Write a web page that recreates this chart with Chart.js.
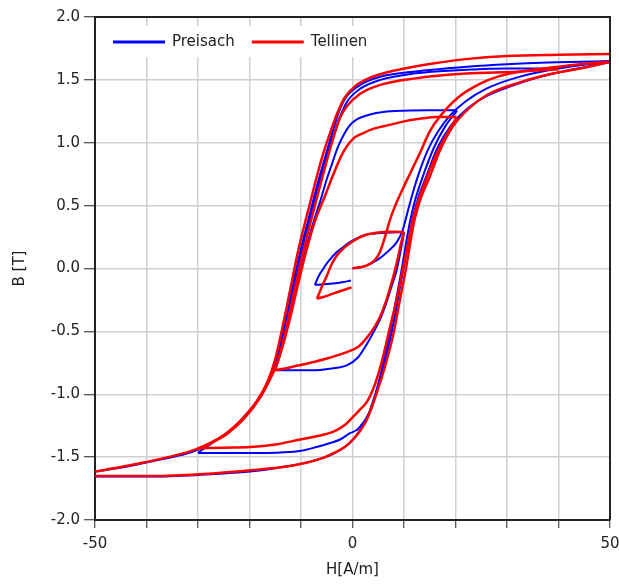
<!DOCTYPE html>
<html>
<head>
<meta charset="utf-8">
<title>B-H Hysterese</title>
<script src="https://cdn.jsdelivr.net/npm/chart.js@4.4.1/dist/chart.umd.min.js"></script>
<style>
  html, body { margin: 0; padding: 0; background: #fff; }
</style>
</head>
<body>
<canvas id="bhChart" width="619" height="585"></canvas>
<script>
// Achsen
const xTicks = [-50, -40, -30, -20, -10, 0, 10, 20, 30, 40, 50];
const xLabels = ['-50', '0', '50'];
const yTicks = [-2, -1.5, -1, -0.5, 0, 0.5, 1, 1.5, 2];

const seriesNames = ['Preisach', 'Tellinen'];
const seriesColors = ['#0000ff', '#ff0000'];

// Tellinen-Modell, Aeste [H, B]
const tellVirgin = [[0,0],[2.5,0.02],[4.2,0.06],[5.3,0.13],[6.3,0.25],[7.3,0.39],[8.3,0.5],[9.5,0.61],[11,0.74],[13,0.91],[15,1.09],[17,1.21],[20.5,1.36],[24.8,1.47],[28.5,1.53],[32.5,1.565],[38.9,1.6],[44.2,1.625],[50,1.645]];
const tellDown50 = [[50,1.705],[40,1.7],[30,1.69],[22,1.665],[15.6,1.63],[10.6,1.595],[6.7,1.56],[3,1.51],[0.5,1.45],[-1.5,1.36],[-3,1.23],[-4.5,1.06],[-6,0.87],[-7.5,0.64],[-9,0.4],[-10.5,0.15],[-12,-0.15],[-13.5,-0.45],[-15,-0.72],[-16.5,-0.9],[-18.5,-1.05],[-21.5,-1.2],[-24.5,-1.31],[-27.5,-1.385],[-30,-1.43],[-32,-1.46],[-38,-1.52],[-44.5,-1.575],[-50,-1.615]];
const tellUp50 = [[-50,-1.65],[-38,-1.65],[-27,-1.63],[-18.6,-1.6],[-12.8,-1.575],[-9,-1.545],[-6,-1.51],[-3.8,-1.47],[-1.5,-1.42],[0.1,-1.36],[1.5,-1.29],[2.8,-1.2],[4.7,-0.99],[6.3,-0.78],[8,-0.51],[9.2,-0.25],[10.3,-0.02],[11.2,0.2],[12,0.38],[13.1,0.54],[15,0.73],[17,0.94],[19.5,1.13],[22.5,1.27],[26.1,1.38],[32.5,1.48],[38.9,1.55],[45.5,1.6],[50,1.645]];
const tellDown40 = [[40,1.585],[32,1.565],[22,1.55],[11.9,1.51],[5.4,1.46],[1.5,1.39],[-1.1,1.29],[-2.4,1.2],[-4,1.0],[-5.5,0.78],[-7,0.55],[-8.5,0.31],[-10,0.06],[-11.5,-0.22],[-13,-0.5],[-14.5,-0.74],[-16,-0.88],[-18,-1.03],[-21,-1.19],[-24.2,-1.31],[-27.5,-1.39],[-30,-1.44]];
const tellUp30 = [[-30,-1.43],[-25,-1.425],[-19.9,-1.42],[-15,-1.4],[-10.2,-1.36],[-6.5,-1.33],[-3.8,-1.3],[-1.5,-1.245],[0.1,-1.18],[1.5,-1.12],[2.8,-1.06],[4,-0.96],[5,-0.84],[6,-0.69],[7.2,-0.48],[8.6,-0.24],[9.8,0],[10.8,0.2],[11.6,0.37],[12.7,0.53],[14.4,0.72],[16.4,0.92],[18.5,1.08],[20.2,1.2]];
const tellDown20 = [[20.2,1.205],[16.3,1.205],[13,1.19],[10,1.17],[7,1.14],[4,1.11],[2,1.075],[0.1,1.03],[-2,0.91],[-4,0.72],[-5.5,0.56],[-7,0.41],[-8.3,0.24],[-9.6,0.04],[-11,-0.2],[-12.4,-0.44],[-13.8,-0.65],[-15,-0.8]];
const tellUp15 = [[-15,-0.81],[-12,-0.785],[-8.2,-0.75],[-4.5,-0.71],[-1.1,-0.665],[1.2,-0.62],[2.8,-0.55],[4.2,-0.47],[5.4,-0.38],[6.5,-0.26],[7.4,-0.14],[8.2,-0.02],[9,0.12],[9.6,0.23],[10,0.29]];
const tellDown10 = [[10,0.29],[8,0.292],[6,0.29],[4,0.28],[2.8,0.27],[1,0.24],[-0.5,0.2],[-2,0.15],[-3.1,0.1],[-4.1,0.03],[-5,-0.06],[-5.8,-0.13],[-6.4,-0.19],[-6.9,-0.24]];
const tellUp7 = [[-6.9,-0.24],[-5.5,-0.225],[-3.8,-0.2],[-2,-0.175],[-0.2,-0.15]];

// Preisach-Modell, Aeste [H, B]
const preiVirgin = [[0,0],[2.5,0.02],[4.9,0.07],[7,0.14],[8.6,0.21],[9.7,0.3],[10.7,0.45],[11.7,0.6],[13,0.77],[14.6,0.94],[16.6,1.09],[19,1.22],[22,1.33],[26,1.43],[32,1.52],[40,1.59],[50,1.645]];
const preiDown50 = [[50,1.65],[40,1.64],[30,1.625],[22.2,1.605],[11.8,1.565],[5.4,1.525],[1.5,1.46],[-1.1,1.37],[-2.6,1.25],[-4,1.07],[-5.5,0.86],[-7,0.64],[-8.5,0.4],[-10,0.16],[-11.5,-0.12],[-13,-0.42],[-14.5,-0.67],[-16,-0.86],[-18,-1.02],[-21.3,-1.19],[-24.4,-1.31],[-27.7,-1.39],[-30,-1.44],[-32,-1.47],[-38,-1.525],[-44.5,-1.58],[-50,-1.615]];
const preiUp50 = [[-50,-1.655],[-38,-1.655],[-27,-1.635],[-19.9,-1.615],[-10.2,-1.555],[-6,-1.51],[-3.8,-1.475],[-1.5,-1.42],[0.1,-1.36],[1.5,-1.28],[2.8,-1.19],[4.5,-0.99],[6,-0.78],[7.6,-0.51],[8.8,-0.25],[9.9,0],[10.8,0.2],[11.6,0.38],[12.6,0.54],[14.4,0.74],[16.4,0.95],[19,1.13],[22,1.26],[26,1.37],[32.5,1.475],[39,1.55],[45.5,1.605],[50,1.64]];
const preiDown40 = [[40,1.59],[30,1.59],[22.2,1.58],[11.8,1.55],[5.4,1.5],[1.5,1.43],[-1,1.33],[-2.5,1.2],[-4,1.02],[-5.5,0.82],[-7,0.6],[-8.5,0.36],[-10,0.1],[-11.5,-0.18],[-13,-0.47],[-14.5,-0.7],[-16,-0.87],[-18,-1.03],[-21,-1.19],[-24.4,-1.31],[-27.7,-1.4],[-30,-1.465]];
const preiUp30 = [[-30,-1.467],[-20,-1.467],[-14.7,-1.465],[-10,-1.45],[-7,-1.42],[-4.5,-1.39],[-2.4,-1.36],[-0.5,-1.31],[0.8,-1.285],[2,-1.23],[2.8,-1.18],[3.8,-1.1],[4.5,-1.0],[5.7,-0.8],[7.2,-0.52],[8.4,-0.26],[9.5,-0.02],[10.4,0.2],[11.2,0.38],[12.2,0.55],[13.9,0.76],[15.8,0.96],[18,1.13],[20.3,1.255]];
const preiDown20 = [[20.3,1.258],[15,1.258],[10,1.255],[6,1.245],[3.4,1.225],[1,1.19],[-0.5,1.14],[-2,1.04],[-3,0.95],[-4,0.83],[-5,0.71],[-6.3,0.53],[-7.5,0.38],[-8.5,0.24],[-10,0],[-11.5,-0.27],[-13,-0.52],[-14.2,-0.7],[-15,-0.81]];
const preiUp15 = [[-15,-0.81],[-8.2,-0.81],[-4,-0.795],[-1.1,-0.77],[1,-0.71],[2.8,-0.6],[4.3,-0.49],[5.5,-0.39],[6.6,-0.27],[7.6,-0.14],[8.6,-0.01],[9.3,0.13],[9.7,0.22],[10,0.29]];
const preiDown10 = [[10,0.29],[6.6,0.285],[2.8,0.27],[0.8,0.24],[-0.5,0.21],[-1.8,0.17],[-3.1,0.13],[-4.2,0.08],[-5,0.04],[-5.8,-0.01],[-6.3,-0.04],[-6.9,-0.09],[-7.3,-0.13]];
const preiUp7 = [[-7.3,-0.13],[-5.5,-0.125],[-3.8,-0.12],[-2,-0.11],[-0.3,-0.095]];

const preisachBranches = [preiVirgin, preiDown50, preiUp50, preiDown40, preiUp30, preiDown20, preiUp15, preiDown10, preiUp7];
const tellinenBranches = [tellVirgin, tellDown50, tellUp50, tellDown40, tellUp30, tellDown20, tellUp15, tellDown10, tellUp7];

Chart.defaults.font.family = '"DejaVu Sans", sans-serif';
Chart.defaults.font.size = 15;
Chart.defaults.color = '#222';

function makeBranch(label, pts, color, width, order) {
    return {
        label: label,
        data: pts.map(p => ({ x: p[0], y: p[1] })),
        showLine: true,
        borderColor: color,
        backgroundColor: color,
        borderWidth: width,
        pointRadius: 0,
        pointHoverRadius: 0,
        cubicInterpolationMode: 'monotone',
        fill: false,
        order: order
    };
}

const datasets = [];
preisachBranches.forEach(b => datasets.push(makeBranch(seriesNames[0], b, seriesColors[0], 2, 2)));
tellinenBranches.forEach(b => datasets.push(makeBranch(seriesNames[1], b, seriesColors[1], 2.5, 1)));

// Legende innerhalb der Zeichenflaeche, mit weissem Hintergrund
const innerLegend = {
    id: 'innerLegend',
    afterDatasetsDraw(chart) {
        const { ctx, chartArea } = chart;
        ctx.save();
        ctx.font = '15px "DejaVu Sans", sans-serif';
        const lineLen = 52, gap = 7, itemGap = 17;
        const y = chartArea.top + 25;
        let width = 18;
        seriesNames.forEach(n => { width += lineLen + gap + ctx.measureText(n).width + itemGap; });
        ctx.fillStyle = '#fff';
        ctx.fillRect(chartArea.left + 5, chartArea.top + 9, width - 10, 31);
        let x = chartArea.left + 18;
        seriesNames.forEach((n, i) => {
            ctx.strokeStyle = seriesColors[i];
            ctx.lineWidth = 3;
            ctx.beginPath();
            ctx.moveTo(x, y);
            ctx.lineTo(x + lineLen, y);
            ctx.stroke();
            x += lineLen + gap;
            ctx.fillStyle = '#222';
            ctx.textBaseline = 'middle';
            ctx.fillText(n, x, y);
            x += ctx.measureText(n).width + itemGap;
        });
        // Rahmen oben und rechts
        ctx.strokeStyle = '#222';
        ctx.lineWidth = 2;
        ctx.beginPath();
        ctx.moveTo(chartArea.left, chartArea.top);
        ctx.lineTo(chartArea.right, chartArea.top);
        ctx.lineTo(chartArea.right, chartArea.bottom);
        ctx.stroke();
        ctx.restore();
    }
};

new Chart(document.getElementById('bhChart').getContext('2d'), {
    type: 'scatter',
    data: { datasets: datasets },
    options: {
        responsive: false,
        animation: false,
        layout: { padding: { top: 17, right: 9, bottom: 0, left: 0 } },
        plugins: {
            legend: { display: false },
            tooltip: { enabled: false }
        },
        scales: {
            x: {
                type: 'linear',
                min: xTicks[0],
                max: xTicks[xTicks.length - 1],
                afterBuildTicks: axis => { axis.ticks = xTicks.map(v => ({ value: v })); },
                afterFit: axis => { axis.height = 65; axis.paddingLeft = 0; axis.paddingRight = 0; },
                grid: { color: '#cfcfcf', lineWidth: 1.5, tickColor: '#222', tickLength: 8, tickWidth: 1 },
                border: { color: '#222', width: 2 },
                ticks: {
                    autoSkip: false,
                    maxRotation: 0,
                    padding: 7,
                    callback: v => (xLabels.includes(String(v)) ? String(v) : '')
                },
                title: { display: true, text: 'H[A/m]', padding: { top: 4, bottom: 6 } }
            },
            y: {
                type: 'linear',
                min: yTicks[0],
                max: yTicks[yTicks.length - 1],
                afterBuildTicks: axis => { axis.ticks = yTicks.map(v => ({ value: v })); },
                afterFit: axis => { axis.width = 95; axis.paddingTop = 0; axis.paddingBottom = 0; },
                grid: { color: '#cfcfcf', lineWidth: 1.5, tickColor: '#222', tickLength: 11, tickWidth: 1 },
                border: { color: '#222', width: 2 },
                ticks: {
                    padding: 4,
                    callback: v => v.toFixed(1)
                },
                title: { display: true, text: 'B [T]', padding: { top: 11, bottom: 0 } }
            }
        }
    },
    plugins: [innerLegend]
});
</script>
</body>
</html>
